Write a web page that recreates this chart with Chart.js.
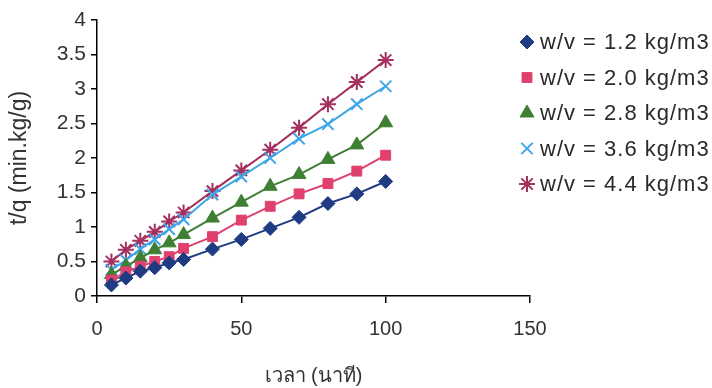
<!DOCTYPE html>
<html>
<head>
<meta charset="utf-8">
<script src="https://cdn.jsdelivr.net/npm/chart.js@4"></script>
<style>
  html, body { margin: 0; padding: 0; background: #fff; }
  .wrap { width: 712px; height: 388px; position: relative; }
</style>
</head>
<body>
<div class="wrap"><canvas id="chart" width="712" height="388"></canvas></div>
<script>
// เวลา (นาที)
const times = [5, 10, 15, 20, 25, 30, 40, 50, 60, 70, 80, 90, 100];

const seriesLabels = ["w/v = 1.2 kg/m3", "w/v = 2.0 kg/m3", "w/v = 2.8 kg/m3", "w/v = 3.6 kg/m3", "w/v = 4.4 kg/m3"];

// t/q values
const wv12 = [0.16, 0.26, 0.36, 0.41, 0.48, 0.53, 0.68, 0.82, 0.98, 1.14, 1.34, 1.48, 1.66];
const wv20 = [0.23, 0.35, 0.43, 0.50, 0.57, 0.69, 0.86, 1.10, 1.30, 1.48, 1.63, 1.81, 2.04];
const wv28 = [0.31, 0.43, 0.55, 0.67, 0.77, 0.89, 1.13, 1.36, 1.59, 1.76, 1.98, 2.19, 2.51];
const wv36 = [0.38, 0.52, 0.68, 0.82, 0.97, 1.11, 1.47, 1.73, 2.00, 2.28, 2.49, 2.78, 3.04];
const wv44 = [0.50, 0.67, 0.80, 0.93, 1.08, 1.21, 1.52, 1.82, 2.12, 2.44, 2.78, 3.10, 3.42];

const xTicks = [0, 50, 100, 150];
const yTicks = [0, 0.5, 1, 1.5, 2, 2.5, 3, 3.5, 4];

const colors = ["#1f3b82", "#e0406e", "#3f7f33", "#3ea6e6", "#a3305f"];
const styles = ["rectRot", "rect", "triangle", "crossRot", "star"];
const sizes = [7, 7, 8, 8, 8];

const toPts = arr => arr.map((v, i) => ({ x: times[i], y: v }));
const allSeries = [wv12, wv20, wv28, wv36, wv44];

const datasets = allSeries.map((s, i) => ({
  label: seriesLabels[i],
  data: toPts(s),
  borderColor: colors[i],
  backgroundColor: colors[i],
  borderWidth: 2,
  pointStyle: styles[i],
  pointRadius: sizes[i],
  pointBorderColor: colors[i],
  pointBackgroundColor: colors[i],
  pointBorderWidth: (styles[i] === "crossRot" || styles[i] === "star") ? 2 : 1,
  showLine: true,
  tension: 0
}));

const FONT = "'Liberation Sans', Arial, sans-serif";

// white bg + legend on the right
const sidePlugin = {
  id: "side",
  beforeDraw(chart) {
    const c = chart.ctx;
    c.save();
    c.fillStyle = "#fff";
    c.fillRect(0, 0, chart.width, chart.height);
    c.restore();
  },
  afterDraw(chart) {
    const c = chart.ctx;
    c.save();
    chart.data.datasets.forEach((ds, i) => {
      const y = 42 + i * 35.5;
      const opts = { pointStyle: ds.pointStyle, radius: ds.pointRadius, borderWidth: ds.pointBorderWidth, rotation: 0 };
      c.fillStyle = ds.backgroundColor;
      c.strokeStyle = ds.borderColor;
      c.lineWidth = ds.pointBorderWidth;
      Chart.helpers.drawPoint(c, opts, 527, y);
      c.fillStyle = "#2a2a2a";
      c.font = "22px " + FONT;
      c.letterSpacing = "1px";
      c.textBaseline = "middle";
      c.textAlign = "left";
      c.fillText(ds.label, 540, y + 1);
    });
    c.restore();
  }
};

new Chart(document.getElementById("chart"), {
  type: "scatter",
  data: { datasets: datasets },
  plugins: [sidePlugin],
  options: {
    responsive: false,
    animation: false,
    layout: { padding: { top: 20, right: 182, left: 0, bottom: 0 } },
    plugins: { legend: { display: false }, tooltip: { enabled: false } },
    scales: {
      x: {
        type: "linear",
        min: 0,
        max: 150,
        afterBuildTicks: s => { s.ticks = xTicks.map(v => ({ value: v })); },
        afterFit: s => { s.height = 92; },
        border: { display: true, color: "#000", width: 1.5 },
        grid: { display: true, drawOnChartArea: false, drawTicks: true, tickLength: 7, color: "#000", lineWidth: 1.5 },
        ticks: { color: "#333", font: { family: FONT, size: 20 }, padding: 14, maxRotation: 0 },
        title: { display: true, text: "เวลา (นาที)", color: "#333", font: { family: FONT, size: 20 }, padding: { top: 4, bottom: 0 } }
      },
      y: {
        min: 0,
        max: 4,
        afterBuildTicks: s => { s.ticks = yTicks.map(v => ({ value: v })); },
        afterFit: s => { s.width = 97; },
        border: { display: true, color: "#000", width: 1.5 },
        grid: { display: true, drawOnChartArea: false, drawTicks: true, tickLength: 6, color: "#000", lineWidth: 1.5 },
        ticks: { color: "#333", font: { family: FONT, size: 21 }, padding: 5, callback: v => String(v) },
        title: { display: true, text: "t/q (min.kg/g)", color: "#333", font: { family: FONT, size: 23 }, padding: { top: 6, bottom: 4 } }
      }
    }
  }
});
</script>
</body>
</html>
